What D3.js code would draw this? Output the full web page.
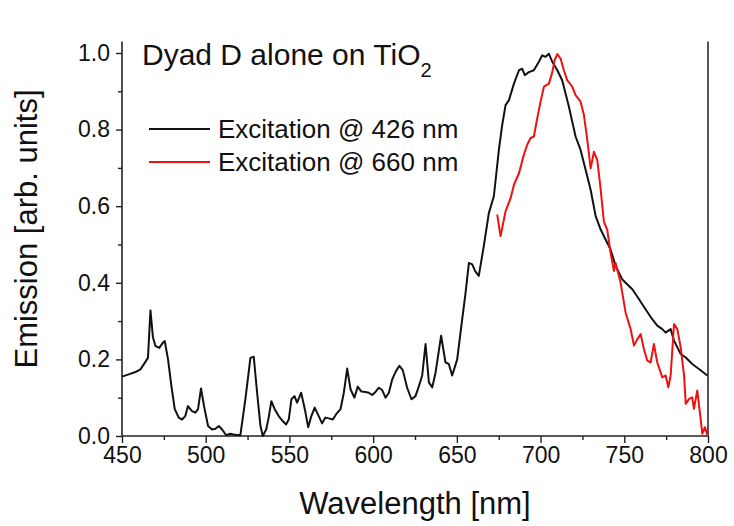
<!DOCTYPE html>
<meta charset="utf-8">
<script src="https://cdn.jsdelivr.net/npm/d3@7"></script>
<style>
    body { margin: 0; background: #fff; }
    text { font-family: "Liberation Sans", Arial, sans-serif; fill: #111; }
</style>
<body>
<svg width="734" height="526"></svg>
</body>
<script>

    // excitation @ 426 nm (black)
    var blackWl = [450, 454, 458, 461, 463, 465.5, 467, 468.5, 470, 472.3, 474.3, 475.5, 477.5, 479.5, 481.5, 483.9, 485.9,
        487.8, 489.4, 491.8, 493.8, 495.4, 497.2, 499, 501.4, 503.8, 505.8, 507.8, 509.8, 512.2, 514.7, 517.7, 520.7,
        523.7, 526.7, 528.7, 530.7, 532.7, 534.1, 536.1, 537.6, 539.2, 541.2, 543.6, 546, 548, 549.6, 551.2, 553, 554.6,
        557, 559.2, 561.2, 563.1, 565.1, 567.5, 569.5, 571.5, 573.5, 575.9, 577.9, 580.5, 582.5, 584.5, 586.5, 588.8,
        590.8, 593, 595.4, 597.4, 599.4, 601.4, 603.4, 605.4, 607.4, 609.4, 611.4, 613.7, 615.7, 617.7, 620.3, 622.9,
        625.3, 627.3, 629.3, 631.3, 633.3, 635.3, 637.3, 640.6, 643.2, 645.2, 647.2, 650.2, 653.2, 655.2, 657.2, 659.2,
        661, 663.1, 666.1, 669.1, 672.1, 675.1, 677, 679.1, 681.1, 684.1, 687.1, 689, 690.6, 693, 696, 699, 701, 703,
        705, 707, 710, 712.9, 716.9, 720.9, 723.9, 726.9, 729.9, 732.9, 735.9, 738.8, 741.8, 744.8, 748.8, 750.8, 754.8,
        758.8, 762.7, 766.7, 769.7, 772.7, 774.7, 777.7, 779.7, 783.7, 786.7, 790.6, 794.6, 799.6];
    var blackEm = [0.155, 0.161, 0.167, 0.174, 0.187, 0.204, 0.328, 0.257, 0.235, 0.23, 0.243, 0.248, 0.2, 0.13, 0.07, 0.048, 0.043,
        0.052, 0.078, 0.065, 0.061, 0.07, 0.124, 0.078, 0.026, 0.017, 0.019, 0.026, 0.017, 0.002, 0.006, 0.003, 0.002,
        0.096, 0.204, 0.207, 0.113, 0.026, 0.0, 0.017, 0.048, 0.091, 0.07, 0.052, 0.039, 0.03, 0.043, 0.096, 0.104, 0.087,
        0.113, 0.07, 0.023, 0.052, 0.074, 0.052, 0.033, 0.048, 0.046, 0.043, 0.057, 0.07, 0.113, 0.176, 0.122, 0.1,
        0.129, 0.116, 0.115, 0.113, 0.107, 0.115, 0.126, 0.12, 0.1, 0.113, 0.148, 0.17, 0.183, 0.172, 0.126, 0.096,
        0.104, 0.13, 0.158, 0.24, 0.14, 0.127, 0.166, 0.262, 0.192, 0.188, 0.158, 0.2, 0.305, 0.374, 0.452, 0.448,
        0.43, 0.418, 0.496, 0.582, 0.626, 0.747, 0.81, 0.864, 0.877, 0.92, 0.955, 0.959, 0.942, 0.95, 0.955, 0.977, 0.994, 0.99,
        0.998, 0.977, 0.955, 0.929, 0.86, 0.782, 0.747, 0.695, 0.643, 0.574, 0.539, 0.513, 0.487, 0.444, 0.409, 0.4, 0.383,
        0.357, 0.331, 0.305, 0.288, 0.279, 0.27, 0.279, 0.249, 0.214, 0.205, 0.188, 0.175, 0.158];

    // excitation @ 660 nm (red)
    var redWl = [674.1, 676.1, 679.1, 682.1, 684.1, 687.1, 690, 692, 694, 696, 698, 700, 702, 705, 707, 708.4, 710, 712,
        713.9, 715.9, 718.9, 720.9, 723.9, 725.9, 727.9, 729.9, 731.9, 733.9, 735.9, 737.8, 739.8, 741.8, 743.8, 744.8,
        746.8, 747.8, 750.8, 753.8, 755.8, 757.8, 759.8, 761.7, 763.7, 765.7, 767.7, 769.7, 772.7, 774.7, 776.3, 777.7,
        779.7, 781.7, 783.7, 785.7, 786.7, 788.7, 790.6, 791.6, 793.6, 795.6, 796.6, 798.2, 799.6];
    var redEm = [0.578, 0.522, 0.587, 0.621, 0.656, 0.686, 0.734, 0.76, 0.778, 0.782, 0.829, 0.873, 0.912, 0.92, 0.95, 0.981, 0.997, 0.985,
        0.955, 0.929, 0.912, 0.89, 0.873, 0.838, 0.773, 0.699, 0.742, 0.72, 0.643, 0.56, 0.539, 0.478, 0.431, 0.452,
        0.418, 0.4, 0.322, 0.279, 0.236, 0.253, 0.266, 0.227, 0.197, 0.192, 0.24, 0.192, 0.153, 0.158, 0.127, 0.158,
        0.292, 0.279, 0.231, 0.158, 0.084, 0.097, 0.101, 0.071, 0.119, 0.045, 0.006, 0.023, 0.002];

    var xTicks = [450, 500, 550, 600, 650, 700, 750, 800];
    var xMinor = [475, 525, 575, 625, 675, 725, 775];
    var yTicks = [0, 0.2, 0.4, 0.6, 0.8, 1.0];
    var yMinor = [0.1, 0.3, 0.5, 0.7, 0.9];
    var legendLabels = ["Excitation @ 426 nm", "Excitation @ 660 nm"];
    var legendColors = ["#111", "#f01010"];

    var svg = d3.select('svg');
    var plotLeft = 122, plotRight = 708, plotBottom = 436, plotTop = 53;

    var x = d3.scaleLinear().domain([450, 800]).range([plotLeft, plotRight]);
    var y = d3.scaleLinear().domain([0, 1]).range([plotBottom, plotTop]);
    var yTop = y(1.03);

    // axes
    svg.append('g').attr('transform', 'translate(0,' + plotBottom + ')')
        .call(d3.axisBottom(x).tickValues(xTicks).tickSize(7).tickPadding(4).tickFormat(d3.format('d')));
    svg.append('g').attr('transform', 'translate(0,' + plotBottom + ')')
        .call(d3.axisBottom(x).tickValues(xMinor).tickSize(4).tickFormat(''));
    svg.append('g').attr('transform', 'translate(' + plotLeft + ',0)')
        .call(d3.axisLeft(y).tickValues(yTicks).tickSize(6).tickPadding(6).tickFormat(d3.format('.1f')));
    svg.append('g').attr('transform', 'translate(' + plotLeft + ',0)')
        .call(d3.axisLeft(y).tickValues(yMinor).tickSize(4).tickFormat(''));

    svg.selectAll('.domain').remove();
    svg.selectAll('.tick line').attr('stroke', '#222').attr('stroke-width', 1.4);
    svg.selectAll('.tick text').attr('font-size', 23).attr('fill', '#111')
        .style('font-family', '"Liberation Sans", Arial, sans-serif');

    // frame lines (no top line)
    svg.append('line').attr('x1', plotLeft).attr('x2', plotRight).attr('y1', plotBottom).attr('y2', plotBottom)
        .attr('stroke', '#222').attr('stroke-width', 1.6);
    svg.append('line').attr('x1', plotLeft).attr('x2', plotLeft).attr('y1', yTop).attr('y2', plotBottom)
        .attr('stroke', '#222').attr('stroke-width', 1.6);
    svg.append('line').attr('x1', plotRight).attr('x2', plotRight).attr('y1', yTop).attr('y2', plotBottom)
        .attr('stroke', '#555').attr('stroke-width', 2);

    var line = d3.line()
        .x(function (d) { return x(d[0]); })
        .y(function (d) { return y(d[1]); });

    svg.append('path')
        .datum(d3.zip(blackWl, blackEm))
        .attr('fill', 'none').attr('stroke', legendColors[0]).attr('stroke-width', 2)
        .attr('stroke-linejoin', 'round')
        .attr('d', line);

    svg.append('path')
        .datum(d3.zip(redWl, redEm))
        .attr('fill', 'none').attr('stroke', legendColors[1]).attr('stroke-width', 2)
        .attr('stroke-linejoin', 'round')
        .attr('d', line);

    // legend
    var legend = svg.append('g').selectAll('g').data(legendLabels).enter().append('g')
        .attr('transform', function (d, i) { return 'translate(149,' + (129 + i * 33) + ')'; });
    legend.append('line').attr('x1', 0).attr('x2', 61).attr('y1', 0).attr('y2', 0)
        .attr('stroke', function (d, i) { return legendColors[i]; }).attr('stroke-width', 2);
    legend.append('text').attr('x', 69).attr('y', 9).attr('font-size', 26).text(function (d) { return d; });

    // annotation
    var note = svg.append('text').attr('x', 142).attr('y', 65).attr('font-size', 30);
    note.append('tspan').text('Dyad D alone on TiO');
    note.append('tspan').attr('font-size', 20).attr('dy', 12).text('2');

    // axis titles
    svg.append('text').attr('x', (plotLeft + plotRight) / 2).attr('y', 514).attr('text-anchor', 'middle')
        .attr('font-size', 31).text('Wavelength [nm]');
    svg.append('text').attr('transform', 'translate(37,229) rotate(-90)').attr('text-anchor', 'middle')
        .attr('font-size', 31).text('Emission [arb. units]');

</script>
